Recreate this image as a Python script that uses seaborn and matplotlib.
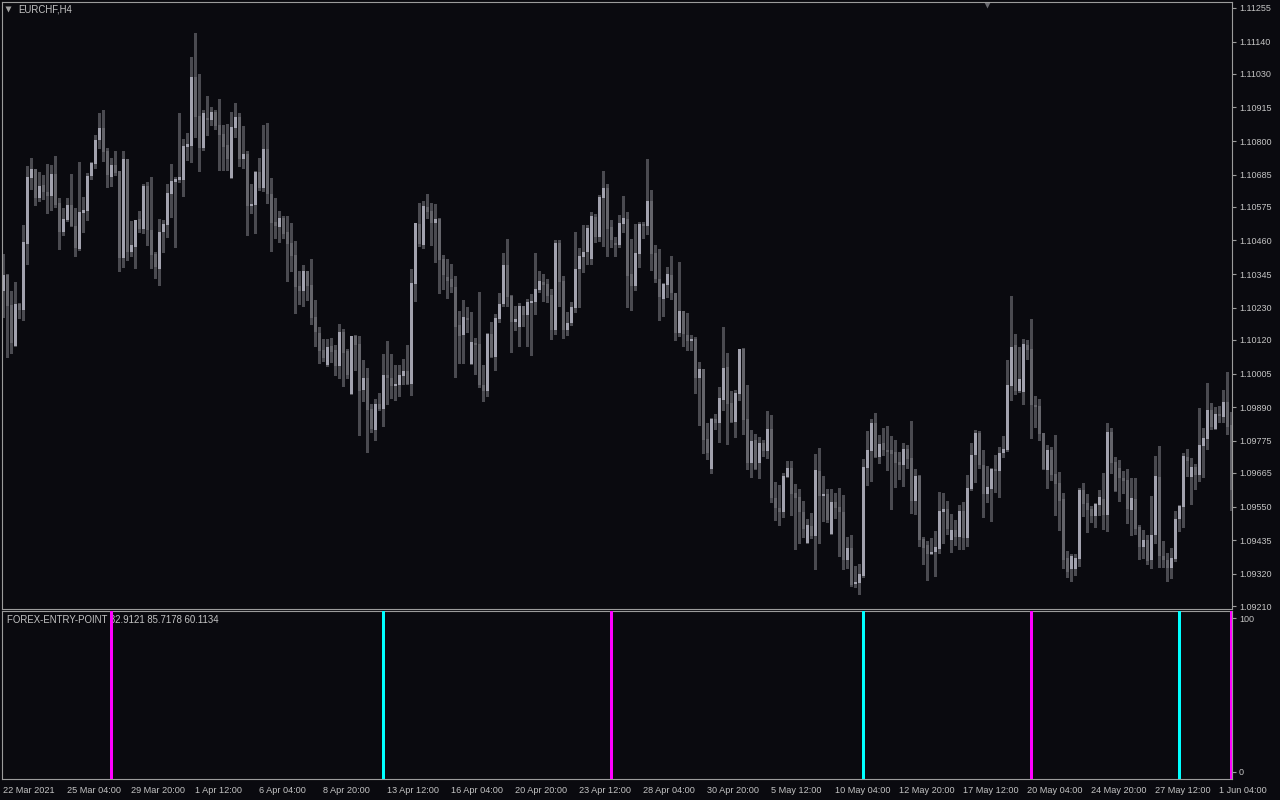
import matplotlib
matplotlib.use("Agg")
import matplotlib.pyplot as plt
import numpy as np
import pandas as pd
import seaborn as sns

symbol_label = "EURCHF,H4"
indicator_label = "FOREX-ENTRY-POINT 82.9121 85.7178 60.1134"

opens = [
    1.10287, 1.10342, 1.10239, 1.10099, 1.10243, 1.10222, 1.10448, 1.10674, 1.10704, 1.10605,
    1.10650, 1.10626, 1.10612, 1.10687, 1.10588, 1.10489, 1.10530, 1.10581, 1.10509, 1.10431,
    1.10554, 1.10561, 1.10680, 1.10721, 1.10804, 1.10845, 1.10766, 1.10677, 1.10718, 1.10698,
    1.10400, 1.10739, 1.10421, 1.10438, 1.10533, 1.10499, 1.10646, 1.10496, 1.10414, 1.10363,
    1.10489, 1.10513, 1.10619, 1.10660, 1.10667, 1.10667, 1.10780, 1.10783, 1.11019, 1.10886,
    1.10776, 1.10879, 1.10872, 1.10899, 1.10855, 1.10824, 1.10787, 1.10674, 1.10845, 1.10882,
    1.10739, 1.10756, 1.10578, 1.10581, 1.10694, 1.10639, 1.10773, 1.10619, 1.10523, 1.10506,
    1.10537, 1.10489, 1.10451, 1.10410, 1.10304, 1.10287, 1.10356, 1.10308, 1.10198, 1.10144,
    1.10086, 1.10034, 1.10099, 1.10086, 1.10031, 1.10147, 1.10082, 1.09935, 1.10133, 1.10106,
    1.09949, 1.09990, 1.09884, 1.09812, 1.09901, 1.09884, 1.10000, 1.09990, 1.09962, 1.09966,
    1.09997, 1.10014, 1.09969, 1.10311, 1.10516, 1.10445, 1.10574, 1.10561, 1.10520, 1.10533,
    1.10397, 1.10335, 1.10328, 1.10301, 1.10171, 1.10137, 1.10195, 1.10038, 1.10109, 1.10106,
    1.09966, 1.09945, 1.10140, 1.10062, 1.10192, 1.10243, 1.10376, 1.10270, 1.10181, 1.10164,
    1.10236, 1.10205, 1.10246, 1.10250, 1.10291, 1.10318, 1.10311, 1.10274, 1.10154, 1.10451,
    1.10321, 1.10154, 1.10178, 1.10229, 1.10363, 1.10404, 1.10421, 1.10397, 1.10540, 1.10472,
    1.10605, 1.10639, 1.10506, 1.10451, 1.10445, 1.10516, 1.10533, 1.10345, 1.10304, 1.10414,
    1.10516, 1.10509, 1.10595, 1.10417, 1.10328, 1.10260, 1.10308, 1.10342, 1.10280, 1.10144,
    1.10219, 1.10137, 1.10116, 1.10123, 1.09990, 1.10021, 1.09781, 1.09679, 1.09850, 1.09836,
    1.09915, 1.10027, 1.09904, 1.09839, 1.09935, 1.10089, 1.09850, 1.09699, 1.09778, 1.09699,
    1.09767, 1.09740, 1.09815, 1.09579, 1.09545, 1.09531, 1.09651, 1.09682, 1.09597, 1.09583,
    1.09531, 1.09426, 1.09484, 1.09449, 1.09672, 1.09586, 1.09593, 1.09456, 1.09566, 1.09549,
    1.09531, 1.09367, 1.09408, 1.09285, 1.09289, 1.09313, 1.09682, 1.09740, 1.09836, 1.09720,
    1.09767, 1.09743, 1.09743, 1.09737, 1.09702, 1.09692, 1.09747, 1.09716, 1.09569, 1.09655,
    1.09439, 1.09419, 1.09388, 1.09395, 1.09405, 1.09531, 1.09542, 1.09436, 1.09470, 1.09446,
    1.09535, 1.09443, 1.09610, 1.09726, 1.09802, 1.09692, 1.09593, 1.09610, 1.09679, 1.09672,
    1.09733, 1.09743, 1.09962, 1.10103, 1.09945, 1.09942, 1.10103, 1.10089, 1.09897, 1.09894,
    1.09802, 1.09675, 1.09743, 1.09661, 1.09631, 1.09576, 1.09374, 1.09337, 1.09337, 1.09371,
    1.09607, 1.09562, 1.09542, 1.09518, 1.09555, 1.09576, 1.09521, 1.09805, 1.09702, 1.09682,
    1.09648, 1.09641, 1.09538, 1.09576, 1.09480, 1.09412, 1.09436, 1.09367, 1.09453, 1.09651,
    1.09381, 1.09367, 1.09341, 1.09371, 1.09508, 1.09549, 1.09720, 1.09651, 1.09685, 1.09658,
    1.09757, 1.09781, 1.09880, 1.09815, 1.09867, 1.09856, 1.09908, 1.09829,
]

highs = [
    1.10414, 1.10345, 1.10287, 1.10318, 1.10246, 1.10513, 1.10715, 1.10742, 1.10704, 1.10694,
    1.10684, 1.10721, 1.10718, 1.10749, 1.10605, 1.10571, 1.10605, 1.10687, 1.10571, 1.10728,
    1.10609, 1.10691, 1.10728, 1.10821, 1.10896, 1.10906, 1.10776, 1.10742, 1.10766, 1.10698,
    1.10766, 1.10739, 1.10527, 1.10530, 1.10561, 1.10653, 1.10660, 1.10677, 1.10421, 1.10533,
    1.10530, 1.10653, 1.10721, 1.10677, 1.10896, 1.10807, 1.10828, 1.11087, 1.11169, 1.11029,
    1.10906, 1.10954, 1.10916, 1.10906, 1.10944, 1.10855, 1.10858, 1.10899, 1.10930, 1.10896,
    1.10851, 1.10766, 1.10653, 1.10698, 1.10742, 1.10855, 1.10862, 1.10674, 1.10605, 1.10561,
    1.10544, 1.10544, 1.10520, 1.10458, 1.10356, 1.10376, 1.10356, 1.10397, 1.10257, 1.10164,
    1.10123, 1.10123, 1.10127, 1.10103, 1.10174, 1.10157, 1.10089, 1.10133, 1.10137, 1.10133,
    1.10051, 1.10024, 1.09901, 1.09918, 1.09938, 1.10072, 1.10116, 1.10072, 1.10034, 1.10034,
    1.10055, 1.10103, 1.10363, 1.10520, 1.10588, 1.10595, 1.10619, 1.10588, 1.10585, 1.10537,
    1.10410, 1.10397, 1.10380, 1.10339, 1.10219, 1.10257, 1.10233, 1.10215, 1.10127, 1.10284,
    1.10034, 1.10144, 1.10181, 1.10209, 1.10280, 1.10417, 1.10465, 1.10274, 1.10236, 1.10246,
    1.10236, 1.10260, 1.10277, 1.10417, 1.10356, 1.10345, 1.10328, 1.10294, 1.10462, 1.10462,
    1.10339, 1.10215, 1.10250, 1.10489, 1.10434, 1.10513, 1.10513, 1.10557, 1.10551, 1.10616,
    1.10698, 1.10653, 1.10530, 1.10472, 1.10547, 1.10612, 1.10557, 1.10465, 1.10516, 1.10523,
    1.10523, 1.10739, 1.10633, 1.10445, 1.10431, 1.10315, 1.10369, 1.10407, 1.10280, 1.10386,
    1.10219, 1.10212, 1.10137, 1.10130, 1.10044, 1.10021, 1.09836, 1.09853, 1.09867, 1.09959,
    1.10164, 1.10075, 1.09945, 1.09949, 1.10089, 1.10092, 1.09966, 1.09812, 1.09798, 1.09788,
    1.09778, 1.09877, 1.09864, 1.09634, 1.09624, 1.09665, 1.09706, 1.09706, 1.09627, 1.09610,
    1.09569, 1.09508, 1.09528, 1.09730, 1.09750, 1.09655, 1.09610, 1.09610, 1.09597, 1.09614,
    1.09590, 1.09446, 1.09453, 1.09347, 1.09354, 1.09713, 1.09808, 1.09850, 1.09870, 1.09795,
    1.09819, 1.09826, 1.09791, 1.09778, 1.09737, 1.09767, 1.09761, 1.09843, 1.09679, 1.09658,
    1.09446, 1.09432, 1.09443, 1.09466, 1.09600, 1.09597, 1.09569, 1.09525, 1.09504, 1.09555,
    1.09566, 1.09658, 1.09767, 1.09812, 1.09808, 1.09743, 1.09689, 1.09682, 1.09726, 1.09754,
    1.09791, 1.10051, 1.10270, 1.10140, 1.10096, 1.10123, 1.10120, 1.10192, 1.09928, 1.09918,
    1.09802, 1.09761, 1.09754, 1.09795, 1.09668, 1.09597, 1.09398, 1.09388, 1.09388, 1.09614,
    1.09631, 1.09593, 1.09552, 1.09562, 1.09607, 1.09665, 1.09836, 1.09819, 1.09720, 1.09709,
    1.09672, 1.09679, 1.09648, 1.09648, 1.09487, 1.09470, 1.09453, 1.09586, 1.09723, 1.09757,
    1.09432, 1.09391, 1.09408, 1.09535, 1.09555, 1.09733, 1.09747, 1.09716, 1.09696, 1.09887,
    1.09819, 1.09973, 1.09904, 1.09891, 1.09894, 1.09949, 1.10010, 1.09873,
]

lows = [
    1.10198, 1.10062, 1.10075, 1.10099, 1.10195, 1.10188, 1.10380, 1.10636, 1.10581, 1.10595,
    1.10602, 1.10554, 1.10564, 1.10574, 1.10431, 1.10479, 1.10527, 1.10509, 1.10407, 1.10427,
    1.10489, 1.10530, 1.10670, 1.10708, 1.10776, 1.10732, 1.10643, 1.10646, 1.10684, 1.10356,
    1.10369, 1.10393, 1.10407, 1.10366, 1.10489, 1.10486, 1.10445, 1.10366, 1.10332, 1.10308,
    1.10421, 1.10472, 1.10540, 1.10438, 1.10660, 1.10612, 1.10735, 1.10728, 1.10814, 1.10698,
    1.10769, 1.10821, 1.10855, 1.10841, 1.10701, 1.10701, 1.10701, 1.10674, 1.10814, 1.10715,
    1.10708, 1.10479, 1.10554, 1.10486, 1.10633, 1.10629, 1.10588, 1.10424, 1.10468, 1.10455,
    1.10468, 1.10321, 1.10356, 1.10212, 1.10243, 1.10236, 1.10257, 1.10174, 1.10099, 1.10041,
    1.10048, 1.10031, 1.10044, 1.10000, 1.09990, 1.09962, 1.09990, 1.09935, 1.10017, 1.09795,
    1.09911, 1.09737, 1.09805, 1.09778, 1.09880, 1.09826, 1.09901, 1.09921, 1.09915, 1.09928,
    1.09969, 1.09969, 1.09932, 1.10253, 1.10441, 1.10434, 1.10537, 1.10445, 1.10386, 1.10280,
    1.10294, 1.10263, 1.10284, 1.09993, 1.10041, 1.10041, 1.10147, 1.10038, 1.10003, 1.09959,
    1.09911, 1.09928, 1.10062, 1.10017, 1.10181, 1.10236, 1.10236, 1.10079, 1.10154, 1.10099,
    1.10168, 1.10099, 1.10068, 1.10209, 1.10284, 1.10253, 1.10250, 1.10123, 1.10140, 1.10236,
    1.10127, 1.10137, 1.10171, 1.10215, 1.10233, 1.10352, 1.10380, 1.10380, 1.10455, 1.10458,
    1.10441, 1.10407, 1.10438, 1.10407, 1.10438, 1.10489, 1.10233, 1.10222, 1.10291, 1.10369,
    1.10468, 1.10482, 1.10359, 1.10318, 1.10188, 1.10202, 1.10267, 1.10260, 1.10120, 1.10133,
    1.10099, 1.10086, 1.10086, 1.09938, 1.09829, 1.09733, 1.09713, 1.09665, 1.09815, 1.09771,
    1.09880, 1.09764, 1.09839, 1.09788, 1.09915, 1.09798, 1.09679, 1.09651, 1.09679, 1.09648,
    1.09723, 1.09716, 1.09566, 1.09504, 1.09487, 1.09514, 1.09651, 1.09521, 1.09405, 1.09426,
    1.09446, 1.09426, 1.09443, 1.09337, 1.09426, 1.09501, 1.09497, 1.09456, 1.09511, 1.09381,
    1.09337, 1.09341, 1.09278, 1.09275, 1.09251, 1.09309, 1.09624, 1.09637, 1.09720, 1.09699,
    1.09726, 1.09675, 1.09542, 1.09617, 1.09644, 1.09620, 1.09682, 1.09528, 1.09525, 1.09415,
    1.09354, 1.09299, 1.09388, 1.09313, 1.09391, 1.09426, 1.09456, 1.09395, 1.09419, 1.09405,
    1.09405, 1.09415, 1.09607, 1.09634, 1.09682, 1.09514, 1.09566, 1.09501, 1.09600, 1.09583,
    1.09720, 1.09740, 1.09915, 1.09935, 1.09942, 1.09901, 1.10055, 1.09785, 1.09822, 1.09778,
    1.09679, 1.09614, 1.09641, 1.09521, 1.09470, 1.09341, 1.09309, 1.09296, 1.09316, 1.09347,
    1.09518, 1.09463, 1.09497, 1.09480, 1.09521, 1.09473, 1.09466, 1.09665, 1.09603, 1.09569,
    1.09597, 1.09494, 1.09453, 1.09456, 1.09371, 1.09374, 1.09354, 1.09341, 1.09426, 1.09344,
    1.09344, 1.09296, 1.09306, 1.09364, 1.09466, 1.09480, 1.09655, 1.09559, 1.09610, 1.09637,
    1.09651, 1.09747, 1.09815, 1.09815, 1.09839, 1.09839, 1.09798, 1.09538,
]

closes = [
    1.10342, 1.10236, 1.10109, 1.10243, 1.10222, 1.10455, 1.10677, 1.10704, 1.10605, 1.10646,
    1.10626, 1.10612, 1.10687, 1.10581, 1.10489, 1.10533, 1.10581, 1.10509, 1.10434, 1.10557,
    1.10564, 1.10680, 1.10725, 1.10804, 1.10845, 1.10763, 1.10684, 1.10718, 1.10691, 1.10400,
    1.10739, 1.10421, 1.10445, 1.10530, 1.10499, 1.10646, 1.10496, 1.10410, 1.10369, 1.10489,
    1.10516, 1.10622, 1.10663, 1.10670, 1.10677, 1.10783, 1.10790, 1.11019, 1.10882, 1.10776,
    1.10896, 1.10872, 1.10899, 1.10851, 1.10821, 1.10780, 1.10739, 1.10848, 1.10882, 1.10739,
    1.10756, 1.10578, 1.10585, 1.10694, 1.10639, 1.10773, 1.10619, 1.10520, 1.10509, 1.10537,
    1.10482, 1.10448, 1.10407, 1.10301, 1.10287, 1.10356, 1.10304, 1.10195, 1.10147, 1.10082,
    1.10058, 1.10096, 1.10079, 1.10031, 1.10147, 1.10075, 1.10000, 1.10133, 1.10103, 1.09945,
    1.09990, 1.09880, 1.09815, 1.09901, 1.09884, 1.10000, 1.09990, 1.09962, 1.09969, 1.10000,
    1.10014, 1.09969, 1.10315, 1.10520, 1.10448, 1.10578, 1.10557, 1.10520, 1.10533, 1.10393,
    1.10342, 1.10321, 1.10301, 1.10164, 1.10133, 1.10198, 1.10188, 1.10113, 1.10103, 1.09966,
    1.09945, 1.10140, 1.10062, 1.10195, 1.10243, 1.10376, 1.10267, 1.10181, 1.10192, 1.10236,
    1.10205, 1.10250, 1.10253, 1.10294, 1.10321, 1.10308, 1.10270, 1.10154, 1.10451, 1.10318,
    1.10154, 1.10178, 1.10233, 1.10363, 1.10407, 1.10421, 1.10503, 1.10544, 1.10472, 1.10609,
    1.10639, 1.10499, 1.10462, 1.10445, 1.10520, 1.10537, 1.10339, 1.10304, 1.10417, 1.10516,
    1.10509, 1.10595, 1.10414, 1.10328, 1.10267, 1.10311, 1.10345, 1.10280, 1.10144, 1.10219,
    1.10140, 1.10116, 1.10123, 1.09990, 1.10021, 1.09778, 1.09733, 1.09850, 1.09836, 1.09921,
    1.10024, 1.09901, 1.09839, 1.09938, 1.10089, 1.09846, 1.09699, 1.09774, 1.09679, 1.09767,
    1.09740, 1.09815, 1.09579, 1.09545, 1.09531, 1.09655, 1.09682, 1.09593, 1.09579, 1.09531,
    1.09473, 1.09487, 1.09449, 1.09675, 1.09586, 1.09593, 1.09504, 1.09566, 1.09545, 1.09531,
    1.09367, 1.09408, 1.09282, 1.09292, 1.09320, 1.09685, 1.09743, 1.09836, 1.09720, 1.09764,
    1.09743, 1.09737, 1.09730, 1.09699, 1.09692, 1.09747, 1.09713, 1.09569, 1.09655, 1.09436,
    1.09408, 1.09388, 1.09395, 1.09412, 1.09535, 1.09542, 1.09473, 1.09470, 1.09446, 1.09535,
    1.09443, 1.09614, 1.09726, 1.09802, 1.09692, 1.09593, 1.09617, 1.09679, 1.09672, 1.09733,
    1.09747, 1.09966, 1.10096, 1.09945, 1.09986, 1.10106, 1.10086, 1.09897, 1.09891, 1.09798,
    1.09679, 1.09743, 1.09658, 1.09627, 1.09569, 1.09367, 1.09326, 1.09381, 1.09374, 1.09607,
    1.09559, 1.09538, 1.09518, 1.09559, 1.09583, 1.09521, 1.09805, 1.09699, 1.09603, 1.09648,
    1.09637, 1.09542, 1.09579, 1.09473, 1.09412, 1.09436, 1.09364, 1.09453, 1.09655, 1.09381,
    1.09367, 1.09341, 1.09374, 1.09508, 1.09552, 1.09723, 1.09706, 1.09685, 1.09658, 1.09761,
    1.09785, 1.09880, 1.09822, 1.09867, 1.09860, 1.09908, 1.09822, 1.09607,
]

buy_signal_bars = [95, 215, 294]
sell_signal_bars = [27, 152, 257, 307]

price_ticks = [1.11255, 1.11140, 1.11030, 1.10915, 1.10800, 1.10685, 1.10575, 1.10460,
               1.10345, 1.10230, 1.10120, 1.10005, 1.09890, 1.09775, 1.09665, 1.09550,
               1.09435, 1.09320, 1.09210]
date_tick_bars = [0, 16, 32, 48, 64, 80, 96, 112, 128, 144, 160, 176, 192, 208, 224,
                  240, 256, 272, 288, 304]
date_tick_labels = ["22 Mar 2021", "25 Mar 04:00", "29 Mar 20:00", "1 Apr 12:00",
                    "6 Apr 04:00", "8 Apr 20:00", "13 Apr 12:00", "16 Apr 04:00",
                    "20 Apr 20:00", "23 Apr 12:00", "28 Apr 04:00", "30 Apr 20:00",
                    "5 May 12:00", "10 May 04:00", "12 May 20:00", "17 May 12:00",
                    "20 May 04:00", "24 May 20:00", "27 May 12:00", "1 Jun 04:00"]
indicator_ticks = [0, 100]

BG = "#0a0a0f"
FRAME = "#9c9c9c"
TEXT = "#c4c4c4"
BULL = "#a2a2ae"
BEAR = "#64646a"
WICK = "#4a4a50"

sns.set_theme(style="dark", rc={
    "axes.facecolor": BG, "figure.facecolor": BG, "axes.edgecolor": FRAME,
    "axes.grid": False, "text.color": TEXT, "xtick.color": FRAME, "ytick.color": FRAME,
    "axes.linewidth": 0.8,
})
plt.rcParams["font.family"] = ["Liberation Sans", "DejaVu Sans"]

df = pd.DataFrame({"open": opens, "high": highs, "low": lows, "close": closes})
df["bar"] = np.arange(len(df))
df["up"] = df["close"] >= df["open"]
df["body_low"] = df[["open", "close"]].min(axis=1)
df["body_h"] = (df["close"] - df["open"]).abs().clip(lower=0.000034)

W, H = 1280, 800
fig = plt.figure(figsize=(12.8, 8), dpi=100, facecolor=BG)
ax = fig.add_axes([2 / W, (H - 609) / H, 1230 / W, 607 / H])
ax2 = fig.add_axes([2 / W, (H - 779) / H, 1230 / W, 168 / H])

xlim = ((2 - 3.33) / 4, (1232 - 3.33) / 4)

# candles
ax.vlines(df["bar"], df["low"], df["high"], colors=WICK, linewidth=0.75,
          antialiased=False, zorder=1)
ax.bar(df["bar"], df["body_h"], bottom=df["body_low"], width=0.8,
       color=np.where(df["up"], BULL, BEAR), linewidth=0, antialiased=False, zorder=2)
ax.set_xlim(*xlim)
ax.set_ylim(1.091998, 1.112755)
ax.yaxis.tick_right()
ax.set_yticks(price_ticks)
ax.set_yticklabels([f"{v:.5f}" for v in price_ticks])
ax.tick_params(axis="y", length=3, width=0.8, colors=FRAME, labelcolor=TEXT,
               labelsize=6.5, pad=2)
ax.set_xticks([])
for s in ax.spines.values():
    s.set_color(FRAME)
    s.set_linewidth(0.8)

fig.text(18 / W, 1 - 10 / H, symbol_label, color=TEXT, fontsize=6.9, va="center", ha="left")
ax.plot([8 / W], [1 - 9 / H], marker="v", ms=4, color="#a0a0a0", mec="none",
        transform=fig.transFigure, clip_on=False)
ax.plot([987 / W], [1 - 5 / H], marker="v", ms=4, color="#6a6a70", mec="none",
        transform=fig.transFigure, clip_on=False)

# indicator panel
ylo, yhi = -4.55, 104.55
ax2.set_xlim(*xlim)
ax2.set_ylim(ylo, yhi)
ax2.bar(buy_signal_bars, [yhi - ylo] * len(buy_signal_bars), bottom=ylo, width=0.9,
        color="#00ffff", linewidth=0, antialiased=False, zorder=3)
ax2.bar(sell_signal_bars, [yhi - ylo] * len(sell_signal_bars), bottom=ylo, width=0.9,
        color="#ff00ff", linewidth=0, antialiased=False, zorder=3)
ax2.text(5 / 1230, (779 - 620) / 168, indicator_label, transform=ax2.transAxes,
         color=TEXT, fontsize=6.9, va="center", ha="left", zorder=1)
ax2.yaxis.tick_right()
ax2.set_yticks(indicator_ticks)
ax2.set_yticklabels([str(v) for v in indicator_ticks])
ax2.tick_params(axis="y", length=3, width=0.8, colors=FRAME, labelcolor=TEXT,
                labelsize=6.5, pad=2)
ax2.set_xticks(date_tick_bars)
ax2.set_xticklabels(date_tick_labels)
ax2.tick_params(axis="x", length=3, width=0.8, colors=FRAME, labelcolor=TEXT,
                labelsize=6.6, pad=2)
for lab in ax2.get_xticklabels():
    lab.set_horizontalalignment("left")
for s in ax2.spines.values():
    s.set_color(FRAME)
    s.set_linewidth(0.8)

fig.savefig("out.png", dpi=100, facecolor=BG)
